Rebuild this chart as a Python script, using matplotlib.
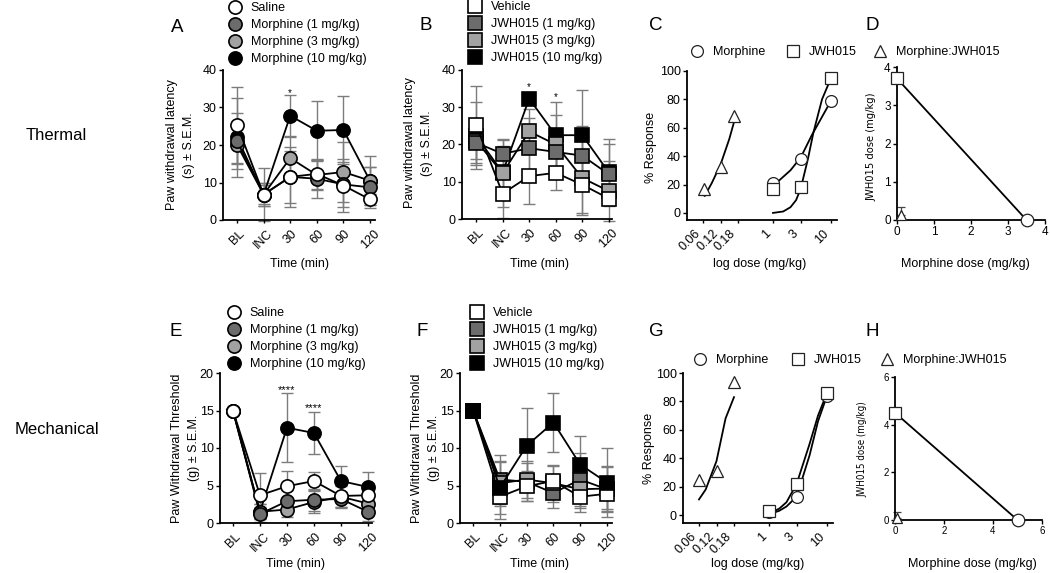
import numpy as np
import matplotlib
matplotlib.use("Agg")
import matplotlib.pyplot as plt
from matplotlib.lines import Line2D
from matplotlib.font_manager import FontProperties

plt.rcParams['font.family'] = ['Liberation Sans', 'DejaVu Sans']
plt.rcParams['font.size'] = 9

# ---------------- data ----------------
time_labels = ['BL', 'INC', '30', '60', '90', '120']

# A: thermal, morphine
A_saline = [25.3, 6.8, 11.5, 12.3, 9.2, 5.5]
A_saline_err = [10.2, 7.0, 7.0, 4.0, 7.0, 1.5]
A_morph1 = [21.0, 6.8, 11.5, 11.0, 9.5, 8.7]
A_morph1_err = [7.5, 3.0, 8.0, 5.0, 6.0, 5.5]
A_morph3 = [20.0, 6.8, 16.5, 12.0, 12.8, 10.5]
A_morph3_err = [5.0, 2.5, 5.5, 4.0, 8.0, 3.5]
A_morph10 = [22.0, 6.8, 27.8, 23.8, 24.0, 10.5]
A_morph10_err = [10.5, 3.0, 5.5, 8.0, 9.0, 6.5]
A_star_x = [2]
A_star_y = [33.8]
A_star_txt = ['*']

# B: thermal, JWH015
B_vehicle = [25.3, 6.8, 11.5, 12.4, 9.2, 5.5]
B_vehicle_err = [10.3, 6.5, 7.5, 4.5, 7.5, 1.5]
B_jwh1 = [20.5, 17.5, 19.0, 18.0, 17.0, 12.0]
B_jwh1_err = [6.0, 4.0, 8.0, 4.0, 8.0, 8.0]
B_jwh3 = [21.0, 12.3, 23.5, 20.0, 11.0, 7.5]
B_jwh3_err = [5.0, 9.0, 6.0, 8.0, 10.0, 8.0]
B_jwh10 = [22.3, 12.5, 32.3, 22.5, 22.5, 12.5]
B_jwh10_err = [9.0, 7.0, 1.0, 9.0, 12.0, 9.0]
B_star_x = [2, 3]
B_star_y = [35.3, 32.8]
B_star_txt = ['*', '*']

# C: thermal dose-response
C_morph_dose = [1, 3, 10]
C_morph_resp = [21, 38, 79]
C_morph_fit_dose = [1, 2, 3, 4.7, 10]
C_morph_fit_resp = [19, 30, 39, 55, 79]
C_jwh_dose = [1, 3, 10]
C_jwh_resp = [17, 18, 95]
C_jwh_fit_dose = [1, 1.5, 2, 2.5, 3, 4, 5, 7, 10]
C_jwh_fit_resp = [0, 1, 4, 9, 17, 38, 57, 80, 95]
C_combo_dose = [0.062, 0.12, 0.165]
C_combo_resp = [17, 32, 68]
C_combo_fit_dose = [0.066, 0.09, 0.12, 0.15, 0.165]
C_combo_fit_resp = [12, 21, 34, 52, 63]

# D: thermal isobologram
D_morph_ed50 = 3.5
D_jwh_ed50 = 3.7
D_combo_x = 0.1
D_combo_y = 0.13
D_combo_err = 0.21

# E: mechanical, morphine
E_saline = [15, 3.7, 4.9, 5.6, 3.6, 3.7]
E_saline_err = [0.2, 3.0, 2.0, 1.2, 1.5, 1.5]
E_morph1 = [15, 1.2, 2.9, 3.1, 3.2, 1.5]
E_morph1_err = [0.2, 1.0, 1.5, 1.5, 1.0, 1.2]
E_morph3 = [15, 1.5, 1.8, 2.8, 3.5, 2.6]
E_morph3_err = [0.2, 1.0, 1.0, 1.5, 1.5, 1.5]
E_morph10 = [15, 1.5, 12.7, 12.0, 5.6, 4.8]
E_morph10_err = [0.2, 1.0, 4.6, 2.8, 2.0, 2.0]
E_star_x = [2, 3]
E_star_y = [17.7, 15.3]
E_star_txt = ['****', '****']

# F: mechanical, JWH015
F_vehicle = [15, 3.5, 4.9, 5.6, 3.5, 3.9]
F_vehicle_err = [0.2, 3.0, 2.0, 2.0, 1.5, 2.0]
F_jwh1 = [15, 5.8, 5.5, 4.0, 5.8, 4.5]
F_jwh1_err = [0.2, 3.3, 2.5, 2.0, 3.5, 3.0]
F_jwh3 = [15, 5.3, 5.8, 5.3, 4.5, 4.6]
F_jwh3_err = [0.2, 3.0, 2.5, 2.5, 3.0, 3.0]
F_jwh10 = [15, 4.7, 10.3, 13.4, 7.8, 5.4]
F_jwh10_err = [0.2, 3.5, 5.1, 3.9, 3.8, 4.6]

# G: mechanical dose-response
G_morph_dose = [1, 3, 10]
G_morph_resp = [2, 13, 84]
G_morph_fit_dose = [1, 1.5, 2, 3, 5, 7, 10]
G_morph_fit_resp = [0.5, 3, 6, 13, 42, 66, 84]
G_jwh_dose = [1, 3, 10]
G_jwh_resp = [3, 22, 86]
G_jwh_fit_dose = [1, 1.5, 2, 3, 5, 7, 10]
G_jwh_fit_resp = [1, 4.5, 9, 22, 50, 70, 86]
G_combo_dose = [0.06, 0.12, 0.18]
G_combo_resp = [25, 31, 94]
G_combo_fit_dose = [0.06, 0.083, 0.12, 0.151, 0.18]
G_combo_fit_resp = [11, 18, 38, 68, 83]

# H: mechanical isobologram
H_morph_ed50 = 5.0
H_jwh_ed50 = 4.5
H_combo_x = 0.1
H_combo_y = 0.1
H_combo_err = 0.25

dose_ticks = [0.06, 0.12, 0.18, 1, 3, 10]
dose_tick_labels = ['0.06', '0.12', '0.18', '1', '3', '10']

# ---------------- figure ----------------
W, H = 1050, 573
fig = plt.figure(figsize=(W / 100, H / 100), dpi=100)
fig.patch.set_facecolor('white')

DARK = '#6c6c6c'
LIGHT = '#a2a2a2'
ECOL = '#7c7c7c'


def add_ax(l, r, t, b):
    return fig.add_axes([l / W, 1 - b / H, (r - l) / W, (b - t) / H])


def style(ax, lw=1.3):
    for s in ('top', 'right'):
        ax.spines[s].set_visible(False)
    for s in ('left', 'bottom'):
        ax.spines[s].set_linewidth(lw)
    ax.tick_params(direction='out', length=3, width=1, pad=1.5)
    ax.minorticks_off()


def label_coords(ax, l, r, t, b, ylab_px, xlab_px):
    ax.yaxis.set_label_coords((ylab_px[0] - l) / (r - l), (b - ylab_px[1]) / (b - t))
    ax.xaxis.set_label_coords((xlab_px[0] - l) / (r - l), (b - xlab_px[1]) / (b - t))


def time_panel(box, series, ylim, yticks, ylabel, xlim, stars, ylab_px, xlab_px, starfs):
    l, r, t, b = box
    ax = add_ax(l, r, t, b)
    x = np.arange(len(time_labels))
    for vals, errs, marker, fc, z in series:
        ax.errorbar(x, vals, yerr=errs, fmt='none', ecolor=ECOL, elinewidth=1,
                    capsize=4, capthick=1, zorder=1, clip_on=False)
    for vals, errs, marker, fc, z in series:
        ax.plot(x, vals, '-', color='k', lw=1.3, marker=marker, ms=9.5,
                mfc=fc, mec='k', mew=1.2, zorder=z, clip_on=False)
    sx, sy, st = stars
    for xi, yi, ti in zip(sx, sy, st):
        ax.text(xi, yi, ti, ha='center', va='center', fontsize=starfs, zorder=10)
    ax.set_xlim(*xlim)
    ax.set_ylim(*ylim)
    ax.set_yticks(yticks)
    ax.set_xticks(x)
    ax.set_xticklabels(time_labels, rotation=45, ha='center')
    style(ax)
    ax.tick_params(axis='x', length=2.5, pad=3)
    ax.set_ylabel(ylabel, fontsize=9, linespacing=1.5)
    ax.set_xlabel('Time (min)', fontsize=9)
    label_coords(ax, l, r, t, b, ylab_px, xlab_px)
    return ax


def _fwd(d):
    d = np.asarray(d, float)
    lo = 16 + (d - 0.06) * (35 / 0.12)
    mid = 51 + (d - 0.18) * (35 / 0.82)
    hi = 86 + 58 * np.log10(np.clip(d, 1e-9, None))
    return np.where(d <= 0.18, lo, np.where(d < 1, mid, hi))


def _inv(p):
    p = np.asarray(p, float)
    lo = 0.06 + (p - 16) * (0.12 / 35)
    mid = 0.18 + (p - 51) * (0.82 / 35)
    hi = 10 ** ((p - 86) / 58)
    return np.where(p <= 51, lo, np.where(p < 86, mid, hi))


def dose_panel(box, d, ylab_px, xlab_px, ylo):
    l, r, t, b = box
    ax = add_ax(l, r, t, b)
    ax.set_xscale('function', functions=(_fwd, _inv))
    ax.plot(d['mfd'], d['mfr'], '-', color='k', lw=1.3, zorder=2)
    ax.plot(d['jfd'], d['jfr'], '-', color='k', lw=1.3, zorder=2)
    ax.plot(d['cfd'], d['cfr'], '-', color='k', lw=1.3, zorder=2)
    kw = dict(ls='none', mfc='white', mec='#222222', mew=0.9, zorder=3, clip_on=False)
    ax.plot(d['md'], d['mr'], marker='o', ms=8.5, **kw)
    ax.plot(d['jd'], d['jr'], marker='s', ms=8.5, **kw)
    ax.plot(d['cd'], d['cr'], marker='^', ms=9, **kw)
    ax.set_xlim(float(_inv(0)), float(_inv(r - l)))
    ax.set_ylim(ylo, 100)
    ax.set_yticks([0, 20, 40, 60, 80, 100])
    ax.set_xticks(dose_ticks)
    ax.set_xticklabels(dose_tick_labels, rotation=45, ha='right')
    style(ax)
    ax.spines['left'].set_bounds(ylo, 100)
    ax.tick_params(axis='x', length=2.5, pad=3)
    ax.set_ylabel('% Response', fontsize=9)
    ax.set_xlabel('log dose (mg/kg)', fontsize=9)
    label_coords(ax, l, r, t, b, ylab_px, xlab_px)
    return ax


def iso_panel(box, xmax, ticks, m_ed, j_ed, cx, cy, cerr, tickfs, labfs, ylab_px, xlab_px):
    l, r, t, b = box
    ax = add_ax(l, r, t, b)
    ax.plot([0, m_ed], [j_ed, 0], '-', color='k', lw=1.3, zorder=2)
    kw = dict(ls='none', mfc='white', mec='#222222', mew=0.9, zorder=3, clip_on=False)
    ax.plot([0], [j_ed], marker='s', ms=9, **kw)
    ax.plot([m_ed], [0], marker='o', ms=9, **kw)
    ax.errorbar([cx], [cy], yerr=[[0], [cerr]], fmt='none', ecolor='#444444',
                elinewidth=0.9, capsize=3, capthick=0.9, zorder=2, clip_on=False)
    ax.plot([cx], [cy], marker='^', ms=7, **kw)
    ax.set_xlim(0, xmax)
    ax.set_ylim(0, xmax)
    ax.set_xticks(ticks)
    ax.set_yticks(ticks)
    style(ax)
    ax.tick_params(labelsize=tickfs, length=3, pad=1.5)
    fp = FontProperties(family='DejaVu Sans', stretch='condensed', size=labfs)
    ax.set_ylabel('JWH015 dose (mg/kg)', fontproperties=fp)
    ax.set_xlabel('Morphine dose (mg/kg)', fontsize=9)
    label_coords(ax, l, r, t, b, ylab_px, xlab_px)
    return ax


def legend(entries, x, y, ms=9.5, mew=1.2, mec='k'):
    handles = [Line2D([], [], ls='none', marker=m, ms=ms, mfc=fc, mec=mec, mew=mew)
               for m, fc, lab in entries]
    labels = [lab for m, fc, lab in entries]
    fig.legend(handles, labels, loc='upper left', bbox_to_anchor=(x / W, 1 - y / H),
               bbox_transform=fig.transFigure, frameon=False, borderpad=0,
               borderaxespad=0, handlelength=1.0, handletextpad=0.75,
               labelspacing=0.4, fontsize=9)


# ---- A
time_panel((223, 375, 70, 220),
           [(A_morph10, A_morph10_err, 'o', 'k', 3),
            (A_morph3, A_morph3_err, 'o', LIGHT, 4),
            (A_morph1, A_morph1_err, 'o', DARK, 5),
            (A_saline, A_saline_err, 'o', 'white', 6)],
           (0, 40), [0, 10, 20, 30, 40], 'Paw withdrawal latency\n(s) \u00b1 S.E.M.',
           (-0.53, 5.19), (A_star_x, A_star_y, A_star_txt), (195, 145), (300, 258), 7)
legend([('o', 'white', 'Saline'), ('o', DARK, 'Morphine (1 mg/kg)'),
        ('o', LIGHT, 'Morphine (3 mg/kg)'), ('o', 'k', 'Morphine (10 mg/kg)')], 229, 2)

# ---- B
time_panel((462, 612, 70, 219),
           [(B_jwh10, B_jwh10_err, 's', 'k', 3),
            (B_jwh3, B_jwh3_err, 's', LIGHT, 4),
            (B_jwh1, B_jwh1_err, 's', DARK, 5),
            (B_vehicle, B_vehicle_err, 's', 'white', 6)],
           (0, 40), [0, 10, 20, 30, 40], 'Paw withdrawal latency\n(s) \u00b1 S.E.M.',
           (-0.53, 5.12), (B_star_x, B_star_y, B_star_txt), (433, 143), (540, 258), 7)
legend([('s', 'white', 'Vehicle'), ('s', DARK, 'JWH015 (1 mg/kg)'),
        ('s', LIGHT, 'JWH015 (3 mg/kg)'), ('s', 'k', 'JWH015 (10 mg/kg)')], 469, 1)

# ---- E
time_panel((220, 372, 373, 523),
           [(E_morph10, E_morph10_err, 'o', 'k', 3),
            (E_morph3, E_morph3_err, 'o', LIGHT, 4),
            (E_morph1, E_morph1_err, 'o', DARK, 5),
            (E_saline, E_saline_err, 'o', 'white', 6)],
           (0, 20), [0, 5, 10, 15, 20], 'Paw Withdrawal Threshold\n(g) \u00b1 S.E.M.',
           (-0.48, 5.15), (E_star_x, E_star_y, E_star_txt), (200, 448), (296, 558), 8)
legend([('o', 'white', 'Saline'), ('o', DARK, 'Morphine (1 mg/kg)'),
        ('o', LIGHT, 'Morphine (3 mg/kg)'), ('o', 'k', 'Morphine (10 mg/kg)')], 228, 307)

# ---- F
time_panel((460, 612, 373, 523),
           [(F_jwh10, F_jwh10_err, 's', 'k', 6),
            (F_jwh3, F_jwh3_err, 's', LIGHT, 4),
            (F_jwh1, F_jwh1_err, 's', DARK, 3),
            (F_vehicle, F_vehicle_err, 's', 'white', 5)],
           (0, 20), [0, 5, 10, 15, 20], 'Paw Withdrawal Threshold\n(g) \u00b1 S.E.M.',
           (-0.49, 5.19), ([], [], []), (440, 448), (540, 558), 8)
legend([('s', 'white', 'Vehicle'), ('s', DARK, 'JWH015 (1 mg/kg)'),
        ('s', LIGHT, 'JWH015 (3 mg/kg)'), ('s', 'k', 'JWH015 (10 mg/kg)')], 471, 307)

# ---- C
dose_panel((687, 837, 71, 220),
           dict(md=C_morph_dose, mr=C_morph_resp, mfd=C_morph_fit_dose, mfr=C_morph_fit_resp,
                jd=C_jwh_dose, jr=C_jwh_resp, jfd=C_jwh_fit_dose, jfr=C_jwh_fit_resp,
                cd=C_combo_dose, cr=C_combo_resp, cfd=C_combo_fit_dose, cfr=C_combo_fit_resp),
           (657, 147), (760, 258), -5)
# ---- G
dose_panel((683, 833, 373, 523),
           dict(md=G_morph_dose, mr=G_morph_resp, mfd=G_morph_fit_dose, mfr=G_morph_fit_resp,
                jd=G_jwh_dose, jr=G_jwh_resp, jfd=G_jwh_fit_dose, jfr=G_jwh_fit_resp,
                cd=G_combo_dose, cr=G_combo_resp, cfd=G_combo_fit_dose, cfr=G_combo_fit_resp),
           (655, 448), (758, 558), -5.6)

for (x0, y0) in [(691, 46), (694, 354)]:
    legend([('o', 'white', 'Morphine')], x0, y0, ms=8.5, mew=0.9, mec='#222222')
for (x0, y0) in [(787, 46), (792, 354)]:
    legend([('s', 'white', 'JWH015')], x0, y0, ms=8.5, mew=0.9, mec='#222222')
for (x0, y0) in [(874, 46), (881, 354)]:
    legend([('^', 'white', 'Morphine:JWH015')], x0, y0, ms=8.5, mew=0.9, mec='#222222')

# ---- D
iso_panel((897, 1045, 67, 220), 4, [0, 1, 2, 3, 4], D_morph_ed50, D_jwh_ed50,
          D_combo_x, D_combo_y, D_combo_err, 8.5, 8, (876, 147), (965, 258))
# ---- H
iso_panel((895, 1042, 377, 520), 6, [0, 2, 4, 6], H_morph_ed50, H_jwh_ed50,
          H_combo_x, H_combo_y, H_combo_err, 7, 7, (867, 449), (972, 558))

# ---- panel letters and row titles
for letter, x0, y0 in [('A', 177, 27), ('B', 426, 25), ('C', 656, 25), ('D', 872, 25),
                       ('E', 176, 332), ('F', 422, 331), ('G', 656, 331), ('H', 872, 332)]:
    fig.text(x0 / W, 1 - y0 / H, letter, fontsize=13.5, ha='center', va='center')
fig.text(56 / W, 1 - 135 / H, 'Thermal', fontsize=12, ha='center', va='center')
fig.text(57 / W, 1 - 430 / H, 'Mechanical', fontsize=12, ha='center', va='center')

fig.savefig('out.png', dpi=100, facecolor='white')
